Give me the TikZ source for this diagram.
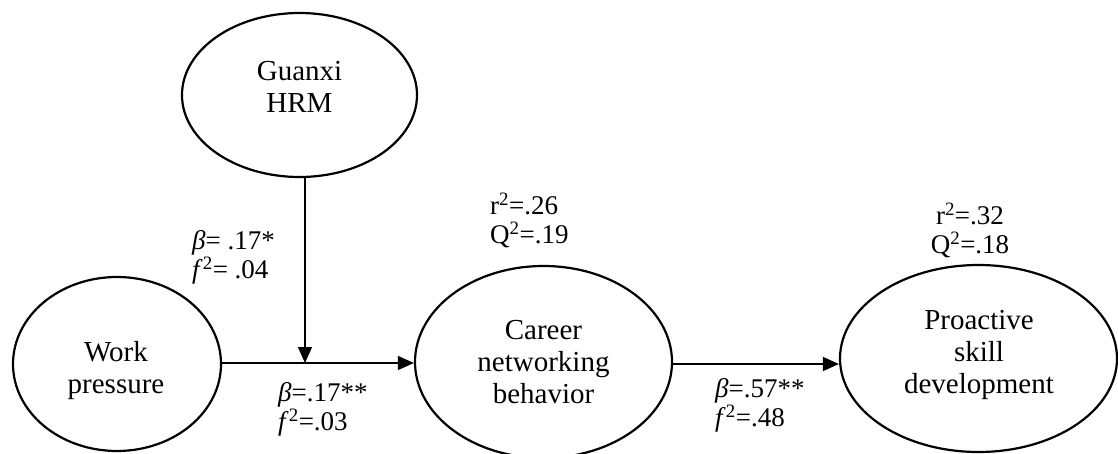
\documentclass[tikz,border=0pt]{standalone}
\usepackage{fontspec}
\setmainfont{Liberation Serif}
\usetikzlibrary{shapes.geometric,arrows.meta}
\begin{document}
\begin{tikzpicture}[x=1pt,y=-1pt,
  ell/.style={draw, line width=2.2pt, ellipse, inner sep=0pt},
  txt/.style={align=center, font=\fontsize{29}{32}\selectfont, inner sep=0pt},
  lab/.style={align=left, font=\fontsize{27}{29}\selectfont, inner sep=0pt, anchor=west},
  labc/.style={align=center, font=\fontsize{27}{29}\selectfont, inner sep=0pt},
  conn/.style={line width=1.4pt, -{Triangle[length=16pt,width=14pt]}}]
\useasboundingbox (0,0) rectangle (1118,454);
\clip (0,0) rectangle (1118,454);
% ellipses
\node[ell, minimum width=235pt, minimum height=164pt] (guanxi) at (299.5,95) {};
\node[ell, minimum width=208pt, minimum height=174pt] (work) at (117,364) {};
\node[ell, minimum width=257pt, minimum height=192pt] (career) at (543.5,362) {};
\node[ell, minimum width=277pt, minimum height=187pt] (proactive) at (978.5,358.5) {};
% texts
\node[txt] (gT) at (299.5,87) {Guanxi\\HRM};
\node[txt] (wT) at (116,371) {Work\\pressure};
\node[txt] (cT) at (543.5,362) {Career\\networking\\behavior};
\node[txt] (pT) at (979,355) {Proactive\\skill\\development};
% connectors
\coordinate (m) at (305,363);
\coordinate (n) at (700,364);
\draw[conn] (work.east |- m) -- (career.west |- m);
\draw[conn] (guanxi.south -| m) -- (m);
\draw[conn] (career.east |- n) -- (proactive.west |- n);
% labels
\node[lab] (l1) at (192,257) {\textit{β}= .17*\\\textit{f}\textsuperscript{2}= .04};
\node[lab] (l2) at (278,409) {\textit{β}=.17**\\\textit{f}\textsuperscript{2}=.03};
\node[lab] (l3) at (715,405) {\textit{β}=.57**\\\textit{f}\textsuperscript{2}=.48};
\node[lab] (l4) at (490,220) {r\textsuperscript{2}=.26\\Q\textsuperscript{2}=.19};
\node[labc] (l5) at (970,230) {r\textsuperscript{2}=.32\\Q\textsuperscript{2}=.18};
\end{tikzpicture}
\end{document}
